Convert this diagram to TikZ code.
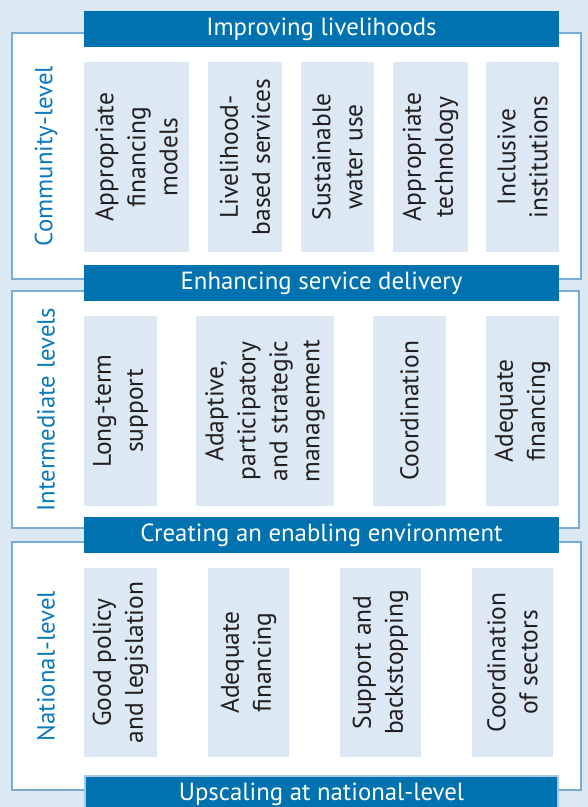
\documentclass[tikz,border=0pt]{standalone}
\usepackage{fontspec}
\setmainfont{PT Sans}
\definecolor{bg}{RGB}{220,232,244}
\definecolor{boxfill}{RGB}{220,232,244}
\definecolor{bardark}{RGB}{0,114,176}
\definecolor{barborder}{RGB}{168,200,230}
\definecolor{panelline}{RGB}{122,172,216}
\definecolor{labelblue}{RGB}{10,122,190}
\definecolor{txt}{RGB}{35,31,32}
\tikzset{
  panel/.style={draw=panelline, line width=1.3pt, fill=white, inner sep=0pt},
  bar/.style={fill=bardark, text=white, inner sep=0pt, minimum width=475pt, minimum height=36pt, font=\fontsize{24.8}{28}\selectfont},
  cbox/.style={fill=boxfill, text=txt, inner sep=0pt, rotate=90, align=center, font=\fontsize{25.5}{32}\selectfont},
  levellabel/.style={text=labelblue, rotate=90, inner sep=0pt, font=\fontsize{24.8}{28}\selectfont}
}
\begin{document}
\begin{tikzpicture}[x=1pt,y=-1pt]
\useasboundingbox (0,0) rectangle (588,807);
\fill[bg] (0,0) rectangle (588,807);
% panels
\node[panel, minimum width=569pt, minimum height=246pt] (p1) at (296.5,156) {};
\node[panel, minimum width=567pt, minimum height=237pt] (p2) at (295.5,409.5) {};
\node[panel, minimum width=569pt, minimum height=248pt] (p3) at (296.5,666) {};
% level labels
\node[levellabel] (l1) at (46,156) {Community-level};
\node[levellabel] (l2) at (46,409.5) {Intermediate levels};
\node[levellabel] (l3) at (46,666) {National-level};
% bars
\node[bar] (b1) at (321.5,29) {Improving livelihoods};
\node[bar] (b2) at (321.5,283) {Enhancing service delivery};
\node[bar] (b3) at (321.5,535) {Creating an enabling environment};
\node[bar, draw=barborder, line width=2pt, minimum width=473pt] (b4) at (321.5,794) {Upscaling at national-level};
% panel 1 boxes (y 62-252)
\node[cbox, minimum width=190pt, minimum height=105pt] (c1) at (136.5,157) {Appropriate\\financing\\models};
\node[cbox, minimum width=190pt, minimum height=74pt] (c2) at (245,157) {Livelihood-\\based services};
\node[cbox, minimum width=190pt, minimum height=73pt] (c3) at (337.5,157) {Sustainable\\water use};
\node[cbox, minimum width=190pt, minimum height=75pt] (c4) at (430.5,157) {Appropriate\\technology};
\node[cbox, minimum width=190pt, minimum height=73pt] (c5) at (522.5,157) {Inclusive\\institutions};
% panel 2 boxes (y 316-506)
\node[cbox, minimum width=190pt, minimum height=73pt] (i1) at (120.5,411) {Long-term\\support};
\node[cbox, minimum width=190pt, minimum height=138pt] (i2) at (265,411) {Adaptive,\\participatory\\and strategic\\management};
\node[cbox, minimum width=190pt, minimum height=73pt] (i3) at (409.5,411) {Coordination};
\node[cbox, minimum width=190pt, minimum height=73pt] (i4) at (522.5,411) {Adequate\\financing};
% panel 3 boxes (y 568-757)
\node[cbox, minimum width=189pt, minimum height=73pt] (n1) at (120.5,662.5) {Good policy\\and legislation};
\node[cbox, minimum width=189pt, minimum height=81pt] (n2) at (248.5,662.5) {Adequate\\financing};
\node[cbox, minimum width=189pt, minimum height=81pt] (n3) at (380.5,662.5) {Support and\\backstopping};
\node[cbox, minimum width=189pt, minimum height=81pt] (n4) at (512.5,662.5) {Coordination\\of sectors};
\end{tikzpicture}
\end{document}
